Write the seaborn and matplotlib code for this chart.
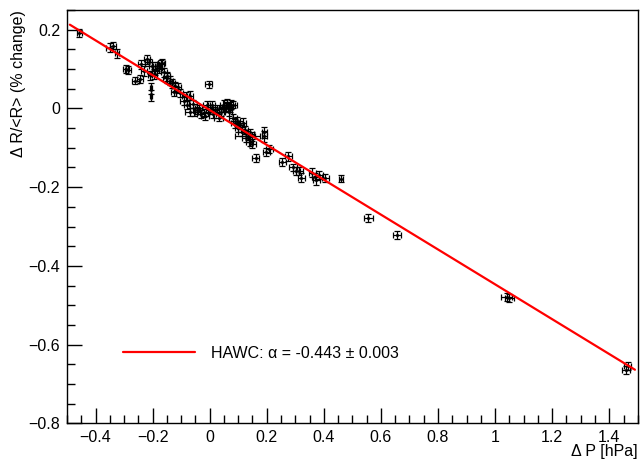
import numpy as np
import pandas as pd
import matplotlib
matplotlib.use("Agg")
import matplotlib.pyplot as plt
from matplotlib.ticker import MultipleLocator
import seaborn as sns

# ---- data ----
dP = [-0.457, -0.350, -0.340, -0.325, -0.293, -0.286, -0.260, -0.244, -0.240, -0.220,
      -0.213, -0.209, -0.206, -0.206, -0.202, -0.190, -0.185, -0.178, -0.171, -0.168,
      -0.160, -0.150, -0.140, -0.133, -0.126, -0.122, -0.112, -0.091, -0.084, -0.080,
      -0.070, -0.070, -0.056, -0.045, -0.038, -0.031, -0.017, -0.003, -0.010, 0.000,
      0.007, 0.010, 0.017, 0.031, 0.038, 0.045, 0.049, 0.056, 0.059, 0.063,
      0.066, 0.073, 0.080, 0.087, 0.080, 0.094, 0.105, 0.112, 0.115, 0.122,
      0.126, 0.133, 0.140, 0.147, 0.150, 0.161, 0.192, 0.192, 0.199, 0.209,
      0.255, 0.276, 0.293, 0.304, 0.314, 0.321, 0.360, 0.370, 0.373, 0.384,
      0.405, 0.460, 0.555, 0.656, 1.040, 1.050, 1.460, 1.465,
      -0.230, -0.195, -0.105, -0.060, 0.025, 0.070, 0.100, 0.140, -0.150, -0.020]
dR = [0.191, 0.155, 0.160, 0.140, 0.100, 0.097, 0.071, 0.074, 0.112, 0.125,
      0.117, 0.084, 0.051, 0.033, 0.107, 0.097, 0.107, 0.102, 0.112, 0.115,
      0.092, 0.082, 0.071, 0.064, 0.043, 0.056, 0.054, 0.020, 0.031, 0.008,
      0.033, -0.010, -0.008, -0.005, 0.000, -0.013, -0.018, 0.061, 0.008, -0.005,
      0.008, -0.015, -0.005, -0.023, -0.008, 0.000, 0.010, 0.005, 0.013, 0.000,
      -0.008, 0.010, 0.010, -0.038, -0.023, -0.033, -0.043, -0.061, -0.036, -0.054,
      -0.074, -0.069, -0.084, -0.071, -0.089, -0.125, -0.071, -0.061, -0.110, -0.102,
      -0.135, -0.122, -0.150, -0.158, -0.158, -0.176, -0.163, -0.173, -0.183, -0.168,
      -0.176, -0.178, -0.278, -0.321, -0.479, -0.482, -0.665, -0.655,
      0.095, 0.088, 0.040, 0.012, -0.002, 0.004, -0.050, -0.065, 0.078, -0.012]
dP_err = [0.008, 0.012, 0.010, 0.008, 0.010, 0.010, 0.012, 0.012, 0.012, 0.010,
          0.012, 0.008, 0.004, 0.004, 0.012, 0.012, 0.012, 0.012, 0.012, 0.012,
          0.012, 0.010, 0.012, 0.010, 0.008, 0.010, 0.012, 0.012, 0.012, 0.010,
          0.010, 0.018, 0.014, 0.012, 0.012, 0.014, 0.014, 0.012, 0.012, 0.012,
          0.012, 0.012, 0.014, 0.016, 0.012, 0.012, 0.014, 0.012, 0.012, 0.012,
          0.012, 0.014, 0.014, 0.012, 0.014, 0.012, 0.014, 0.012, 0.012, 0.012,
          0.012, 0.045, 0.012, 0.012, 0.012, 0.012, 0.010, 0.010, 0.012, 0.012,
          0.012, 0.012, 0.014, 0.012, 0.012, 0.012, 0.012, 0.012, 0.012, 0.012,
          0.012, 0.006, 0.016, 0.014, 0.018, 0.016, 0.014, 0.012,
          0.012, 0.012, 0.012, 0.014, 0.014, 0.012, 0.012, 0.014, 0.012, 0.014]
dR_err = [0.010, 0.012, 0.010, 0.012, 0.010, 0.010, 0.010, 0.010, 0.012, 0.012,
          0.010, 0.012, 0.014, 0.014, 0.012, 0.012, 0.012, 0.012, 0.012, 0.012,
          0.012, 0.012, 0.012, 0.012, 0.012, 0.012, 0.012, 0.010, 0.010, 0.010,
          0.012, 0.010, 0.010, 0.010, 0.010, 0.010, 0.010, 0.010, 0.010, 0.010,
          0.010, 0.010, 0.010, 0.010, 0.010, 0.010, 0.012, 0.012, 0.012, 0.010,
          0.010, 0.012, 0.010, 0.012, 0.010, 0.012, 0.010, 0.010, 0.012, 0.010,
          0.012, 0.012, 0.012, 0.012, 0.012, 0.010, 0.014, 0.014, 0.010, 0.010,
          0.010, 0.012, 0.010, 0.010, 0.010, 0.012, 0.012, 0.010, 0.012, 0.010,
          0.010, 0.010, 0.010, 0.010, 0.010, 0.010, 0.010, 0.010,
          0.012, 0.012, 0.010, 0.010, 0.010, 0.012, 0.010, 0.012, 0.012, 0.010]

fit_slope = -0.443
fit_intercept = -0.004
fit_range = [-0.49, 1.49]
legend_text = "HAWC: \u03b1 = -0.443 \u00b1 0.003"

# ---- plotting ----
sns.set_style("white")
plt.rcParams['font.family'] = ['Liberation Sans', 'DejaVu Sans']
plt.rcParams['text.color'] = 'black'
plt.rcParams['axes.labelcolor'] = 'black'
plt.rcParams['xtick.color'] = 'black'
plt.rcParams['ytick.color'] = 'black'

df = pd.DataFrame({"dP": dP, "dR": dR, "ex": dP_err, "ey": dR_err})
fx = np.array(fit_range)
fit_df = pd.DataFrame({"x": fx, "y": fit_slope * fx + fit_intercept})

fig = plt.figure(figsize=(6.41, 4.61), dpi=100)
ax = fig.add_axes([0.1045, 0.082, 0.8905, 0.896])

ax.errorbar(df["dP"], df["dR"], xerr=df["ex"], yerr=df["ey"], fmt="none",
            ecolor="black", elinewidth=0.9, capsize=2, capthick=0.9, zorder=2)
sns.scatterplot(data=df, x="dP", y="dR", ax=ax, color="black", s=5,
                edgecolor="black", linewidth=0, zorder=3, legend=False)
sns.lineplot(data=fit_df, x="x", y="y", ax=ax, color="red", linewidth=1.6, zorder=4)

ax.set_xlim(-0.5, 1.5)
ax.set_ylim(-0.8, 0.25)
ax.xaxis.set_major_locator(MultipleLocator(0.2))
ax.xaxis.set_minor_locator(MultipleLocator(0.05))
ax.yaxis.set_major_locator(MultipleLocator(0.2))
ax.yaxis.set_minor_locator(MultipleLocator(0.05))
ax.tick_params(which="both", direction="in", bottom=True, left=True,
               top=False, right=False, labelsize=11.5, colors="black", width=1)
ax.tick_params(axis="x", which="major", length=11, pad=5)
ax.tick_params(axis="x", which="minor", length=5.5)
ax.tick_params(axis="y", which="major", length=11, pad=5)
ax.tick_params(axis="y", which="minor", length=5.5)

def fmt(v, pos):
    s = f"{v:.1f}".rstrip("0").rstrip(".") if abs(v) > 1e-9 else "0"
    return s.replace("-", "\u2212")
ax.xaxis.set_major_formatter(plt.FuncFormatter(fmt))
ax.yaxis.set_major_formatter(plt.FuncFormatter(fmt))

for sp in ax.spines.values():
    sp.set_visible(True)
    sp.set_color("black")
    sp.set_linewidth(1)

ax.set_xlabel("\u0394 P [hPa]", fontsize=11.5, loc="right", labelpad=-1, color="black")
ax.set_ylabel("\u0394 R/<R> (% change)", fontsize=11.5, loc="top", labelpad=2, color="black")

# legend
ax.plot([], [], color="red", linewidth=1.6, label=legend_text)
handles, labels = ax.get_legend_handles_labels()
leg = ax.legend(handles[-1:], labels[-1:], loc="lower left",
                bbox_to_anchor=(0.073, 0.116), frameon=False, fontsize=11.5,
                handlelength=4.5, handletextpad=1.0, labelcolor="black")

fig.savefig("out.png", dpi=100, facecolor="white")
